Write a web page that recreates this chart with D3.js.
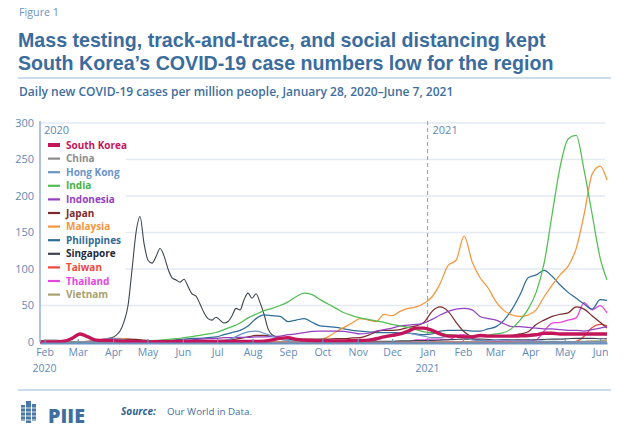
<!DOCTYPE html>
<html><head><meta charset="utf-8">
<script src="https://cdn.jsdelivr.net/npm/d3@7/dist/d3.min.js"></script>
<style>body{margin:0;background:#fff;} svg{display:block;font-family:"Open Sans",sans-serif;}</style>
</head><body><svg id="chart" width="630" height="445"></svg>
<script>
// ---------------- DATA ----------------
const startDate = new Date(2020, 0, 28);
const endDate = new Date(2021, 5, 7);
const categories = ["South Korea","China","Hong Kong","India","Indonesia","Japan","Malaysia","Philippines","Singapore","Taiwan","Thailand","Vietnam"];
const seriesColors = ["#c4145a","#8c8c8c","#6a94c8","#52bd52","#9440c0","#7a2b2b","#f6963c","#2f6c97","#3d4550","#f0473c","#e544e0","#a8a171"];
const legendTextColors = ["#c4145a","#8c8c8c","#6a94c8","#3fb33f","#9440c0","#7a2b2b","#f6963c","#2f6c97","#1e2a38","#f0473c","#e544e0","#a8a171"];
// weekly values, starting Jan 28 2020 (one every 7 days), last value Jun 7 2021
const southKorea = [0,0.2,0.2,1,5,11,7,2.5,2,2, 1,0.6,0.3,0.2,0.2,0.5,0.4,0.6,0.8,0.8, 0.8,0.9,0.9,1,0.8,0.9,0.8,0.6,1,3, 5,6,3.5,2.5,2,1.5,1.5,1.5,1.5,1.8, 2,2.5,4.5,7,9,11,15,19,19,16, 11,8,8,7,7,9,8,8,8,8, 8.5,9,10,12,12,11,11,11,11,11, 11,11];
const china = [1.2,2.4,2.6,1.5,0.4,0.1,0,0,0,0, 0,0,0,0,0,0,0,0,0,0, 0,0,0,0,0,0,0,0,0,0, 0,0,0,0,0,0,0,0,0,0, 0,0,0,0,0,0,0,0,0,0, 0,0,0,0,0,0,0,0,0,0, 0,0,0,0,0,0,0,0,0,0, 0,0];
const hongKong = [0.3,0.3,0.5,0.5,0.4,0.3,0.5,1.5,4,5, 4,2,0.5,0.2,0.2,0.2,0.2,0.2,0.2,0.2, 0.2,0.3,0.5,2,5,10,14,15,12,8, 4,2,1.5,1.2,1.2,1.2,1,1,1.5,1, 1,1.5,3,7,10,13,12,10,8,6, 6,8,8,6,3,2,2,3,2.5,2.5, 1.5,1.3,1.2,1,1,0.6,0.5,0.3,0.3,0.2, 0.2,0.2];
const india = [0,0,0,0,0,0,0,0,0,0.1, 0.3,0.5,0.8,1,1.8,2.5,3.5,4.5,6,7.5, 9,11,13,17,21,26,33,38,43,46, 50,55,62,67,65,58,52,46,40,36, 33,31,29,27,24,22,20,17,14,13, 12,10,9,8,8,8.5,9.5,11,13,19, 30,45,68,108,175,240,278,283,235,175, 115,85];
const indonesia = [0,0,0,0,0,0,0,0,0,0.3, 0.8,1,1,1.2,1.3,1.8,2,2.2,2.5,3, 4,4.5,5,6,6,6.5,6.5,7,7,7.5, 8,10,11,13,14.5,15,15,15,14.5,13, 11,12,15,17,19,22,23,24,26,31, 37,42,45,46,44,35,32,30,25,21, 21,20,19,18,18,17,16,16,15,17, 19,21];
const japan = [0,0,0,0,0.1,0.1,0.2,0.3,0.6,1.5, 3,4,3.5,2.5,1.5,0.8,0.4,0.3,0.3,0.4, 0.4,0.5,1,2,3,5,7,9,9,8, 6.5,5,4,4,4,4,4,4.5,4.5,5.5, 6,9,14,16,16,17,20,22,27,42, 48,42,27,14,8,8,8,8,8.5,9, 11,14,24,30,35,38,40,48,45,36, 27,19];
const malaysia = [0,0,0,0,0,0.1,0.8,2,4,5, 5,4,2.5,1.5,1.5,1,1,1.5,1,0.5, 0.3,0.2,0.2,0.2,0.2,0.3,0.2,0.3,0.3,0.3, 0.3,0.5,1,1.5,2,3,7,14,20,26, 32,30,28,38,36,42,46,48,53,62, 80,105,112,145,110,88,74,55,43,37, 35,37,44,62,78,92,104,128,175,230, 241,222];
const philippines = [0,0,0,0,0,0,0,0.1,0.3,0.5, 1.5,2,1.5,2,2,1.5,2,3,4,5, 5,6,7,10,13,16,22,32,37,36, 35,28,30,32,27,22,21,20,18,16, 15,14,13,13,13,13,12,11,10,11, 15,16,16,16,15,15,18,21,30,45, 65,88,92,98,90,78,68,60,52,45, 58,57];
const taiwan = [0,0,0,0,0,0,0,0.3,0.5,0.4, 0,0,0,0,0,0,0,0,0,0, 0,0,0,0,0,0,0,0,0,0, 0,0,0,0,0,0,0,0,0,0, 0,0,0,0,0,0,0,0,0,0, 0,0,0,0,0,0,0,0,0,0, 0,0,0,0,0,0,0,1,8,20, 24,22];
const thailand = [0,0,0,0,0,0.1,0.2,0.5,1.2,1.6, 1.2,0.6,0.3,0.1,0.1,0.1,0.1,0.1,0.1,0.1, 0.1,0.1,0.1,0.1,0.1,0.1,0.1,0.1,0.1,0.1, 0.1,0.1,0.1,0.1,0.1,0.1,0.1,0.1,0.1,0.1, 0.1,0.1,0.1,0.1,0.1,0.1,0.2,3,3,4, 4,3,8,10,5,2,1.5,1,1.5,1.5, 1.5,1.5,3,15,26,27,30,33,54,44, 50,40];
const vietnam = [0,0,0,0,0,0,0,0.1,0.2,0.2, 0.1,0,0,0,0,0,0,0,0,0, 0,0,0,0,0,0,0.1,0.1,0.1,0, 0,0,0,0,0,0,0,0,0,0, 0,0,0,0,0,0,0,0,0,0, 0,0,0,0,0,0,0,0,0,0, 0,0,0,0,0,0,0.3,0.5,1,1.5, 1.5,2.5];
// Singapore: weekly to Mar 17 2020, then every 3.5 days to Sep 8 2020, then weekly
const singaporeEarly = [0,0.5,1,1,0.5,0.5,1,2];
const singaporeDense = [3,5,6,9,15,28,50,99,150,172,135,112,108,117,128,118,100,88,85,82,86,76,66,63,52,40,32,30,34,30,26,28,36,46,44,58,67,60,66,54,38,18,10,7,6,5,4,3,3];
const singaporeLate = [2,2,2,1.5,1.5,1.5,1.5,1,1,1,1,1,1.5,1.5,2,2,2,2.5,3,3.5,4,4,4,3.5,3,3.5,3,3,3,3,3.5,4,4,4.5,5,5,5,4.5,4.5];
const yTicks = [0,50,100,150,200,250,300];
const monthLabels = ["Feb","Mar","Apr","May","Jun","Jul","Aug","Sep","Oct","Nov","Dec","Jan","Feb","Mar","Apr","May","Jun"];
const yearLabels = [["2020",0],["2021",11]];

// ---------------- BUILD ----------------
const weekDays = d3.range(0, 491, 7).concat([496]);
const sgDays = d3.range(0, 50, 7).concat(d3.range(56, 224.01, 3.5), d3.range(231, 491, 7), [496]);
const sgValues = singaporeEarly.concat(singaporeDense, singaporeLate);
const dayToDate = d => new Date(startDate.getTime() + d * 864e5);
const valuesByName = {"South Korea":southKorea,"China":china,"Hong Kong":hongKong,"India":india,"Indonesia":indonesia,"Japan":japan,"Malaysia":malaysia,"Philippines":philippines,"Taiwan":taiwan,"Thailand":thailand,"Vietnam":vietnam};
const series = categories.map((name,i) => {
  const days = name === "Singapore" ? sgDays : weekDays;
  const vals = name === "Singapore" ? sgValues : valuesByName[name];
  return {name, color: seriesColors[i], textColor: legendTextColors[i], points: days.map((d,j)=>({date: dayToDate(d), v: vals[j]}))};
});

const svg = d3.select("#chart");
const x = d3.scaleTime().domain([startDate, endDate]).range([40, 607]);
const y = d3.scaleLinear().domain([0, 300]).range([342, 123]);
const blue = "#3a6c9e", axisBlue = "#5f89b8";

function fit(sel, target) {
  const w = sel.node().getComputedTextLength();
  const fs = parseFloat(sel.attr("font-size"));
  sel.attr("font-size", (fs * target / w).toFixed(2));
  return fs * target / w;
}

// header
fit(svg.append("text").attr("x", 19).attr("y", 16).attr("font-size", 10).attr("fill", "#6d94bf").text("Figure 1"), 40);
const titleFont = "'Liberation Sans', Arial, sans-serif";
const t1 = svg.append("text").attr("x", 18).attr("y", 46.5).attr("font-size", 19).attr("font-weight", 700).attr("fill", blue)
  .attr("font-family", titleFont).text("Mass testing, track-and-trace, and social distancing kept");
const tfs = fit(t1, 528);
svg.append("text").attr("x", 18).attr("y", 69.5).attr("font-size", tfs).attr("font-weight", 700).attr("fill", blue)
  .attr("font-family", titleFont).text("South Korea\u2019s COVID-19 case numbers low for the region");
svg.append("line").attr("x1", 18).attr("x2", 611).attr("y1", 78).attr("y2", 78).attr("stroke", "#bcd0e4").attr("stroke-width", 1.5);
fit(svg.append("text").attr("x", 19).attr("y", 96).attr("font-size", 12).attr("font-weight", 600).attr("fill", "#3e6e9e")
  .text("Daily new COVID-19 cases per million people, January 28, 2020\u2013June 7, 2021"), 435);

// grid
svg.append("g").selectAll("line").data(yTicks.filter(t => t > 0)).join("line")
  .attr("x1", 40).attr("x2", 605).attr("y1", d => y(d)).attr("y2", d => y(d))
  .attr("stroke", "#e3eaf3").attr("stroke-width", 1.3);

// y labels
svg.append("g").selectAll("text").data(yTicks).join("text")
  .attr("x", 34).attr("y", d => y(d)).attr("dy", "0.35em").attr("text-anchor", "end")
  .attr("font-size", 11).attr("fill", axisBlue).text(d => d);

// 2021 divider
const jan2021 = new Date(2021, 0, 1);
svg.append("line").attr("x1", x(jan2021)).attr("x2", x(jan2021)).attr("y1", 121).attr("y2", 342)
  .attr("stroke", "#8fabc9").attr("stroke-width", 1.2).attr("stroke-dasharray", "4,3");
svg.append("text").attr("x", 44).attr("y", 134).attr("font-size", 11).attr("fill", axisBlue).text("2020");
svg.append("text").attr("x", x(jan2021) + 5).attr("y", 134).attr("font-size", 11).attr("fill", axisBlue).text("2021");

// legend background
svg.append("rect").attr("x", 41).attr("y", 137).attr("width", 85).attr("height", 164).attr("fill", "#fff");

// lines
const line = d3.line().x(d => x(d.date)).y(d => y(Math.max(0, d.v))).curve(d3.curveMonotoneX);
svg.append("g").selectAll("path").data(series.slice().reverse()).join("path")
  .attr("d", d => line(d.points)).attr("fill", "none").attr("stroke", d => d.color)
  .attr("stroke-width", d => d.name === "South Korea" ? 3.4 : (d.name === "Singapore" ? 1.1 : 1.25)).attr("stroke-linejoin", "round");

// axes
svg.append("line").attr("x1", 40).attr("x2", 40).attr("y1", 121).attr("y2", 342).attr("stroke", "#93b0d0").attr("stroke-width", 1.5);
const monthTicks = d3.timeMonth.range(new Date(2020, 1, 1), new Date(2021, 5, 2));
const xAxis = d3.axisBottom(x).tickValues(monthTicks).tickSizeInner(-4).tickSizeOuter(0).tickPadding(6)
  .tickFormat((d, i) => monthLabels[i]);
const gx = svg.append("g").attr("transform", "translate(0,343)").call(xAxis);
gx.select(".domain").attr("stroke", "#6a93c2").attr("stroke-width", 2);
gx.selectAll(".tick line").attr("stroke", "#6a93c2").attr("stroke-width", 1.2);
gx.selectAll(".tick text").attr("fill", axisBlue).attr("font-size", 10.5).attr("font-family", "Open Sans");
svg.append("g").selectAll("text").data(yearLabels).join("text")
  .attr("x", d => x(monthTicks[d[1]])).attr("y", 372).attr("text-anchor", "middle")
  .attr("font-size", 10.5).attr("fill", axisBlue).text(d => d[0]);

// legend
const lg = svg.append("g").selectAll("g").data(series).join("g")
  .attr("transform", (d, i) => `translate(0,${145 + i * 13.6})`);
lg.append("line").attr("x1", 48).attr("x2", 60).attr("stroke", d => d.color)
  .attr("stroke-width", d => d.name === "South Korea" ? 4 : 2.2);
const lt = lg.append("text").attr("x", 66).attr("dy", "0.35em").attr("font-size", 10).attr("font-weight", 700)
  .attr("fill", d => d.textColor).text(d => d.name);
const lfs = fit(d3.select(lt.nodes()[0]), 61);
lt.attr("font-size", lfs.toFixed(2));

// footer
svg.append("line").attr("x1", 18).attr("x2", 611).attr("y1", 390).attr("y2", 390).attr("stroke", "#bcd0e4").attr("stroke-width", 1.5);
const logo = svg.append("g").attr("fill", "#4a78a8");
[[21,405,4,16],[26,401,5,22],[32,404,4,17]].forEach(r => logo.append("rect").attr("x", r[0]).attr("y", r[1]).attr("width", r[2]).attr("height", r[3]));
[408,412,416,420].forEach(yy => svg.append("line").attr("x1", 20).attr("x2", 37).attr("y1", yy).attr("y2", yy).attr("stroke", "#fff").attr("stroke-width", 0.8));
fit(svg.append("text").attr("x", 48).attr("y", 423).attr("font-size", 20).attr("font-weight", 800).attr("fill", "#3f6fa0").text("PIIE"), 37);
fit(svg.append("text").attr("x", 121).attr("y", 415).attr("font-size", 10).attr("font-weight", 700).attr("font-style", "italic").attr("fill", "#2f5f8f").text("Source:"), 35);
fit(svg.append("text").attr("x", 167).attr("y", 415).attr("font-size", 10).attr("fill", "#3f6fa0").text("Our World in Data."), 85);
</script>
</body></html>
